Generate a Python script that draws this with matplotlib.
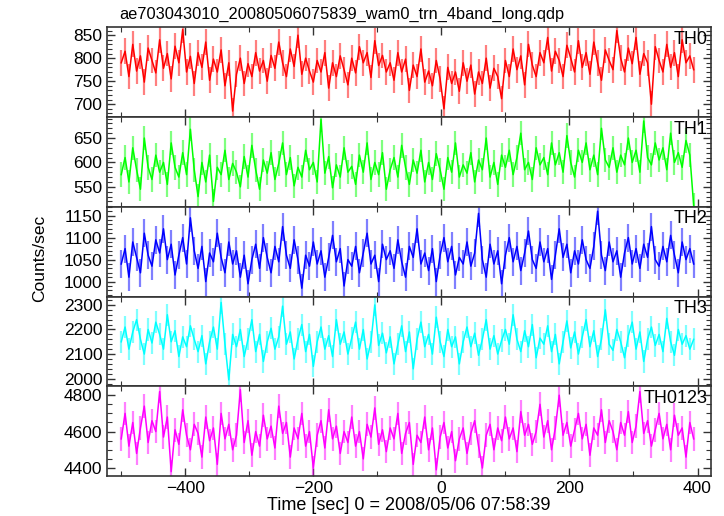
#!/usr/bin/env python3

import matplotlib

matplotlib.use("Agg")
import matplotlib.pyplot as plt
import numpy as np
from matplotlib.ticker import MultipleLocator

# light-curve bins (s), relative to 2008/05/06 07:58:39
t_start = -500.0
bin_width = 6.0

th0_rate = [
    790, 815, 760, 830, 772, 805, 748, 822, 795, 768,
    840, 778, 810, 755, 826, 790, 862, 770, 804, 745,
    812, 780, 835, 752, 798, 770, 818, 740, 790, 685,
    765, 800, 745, 788, 760, 812, 772, 795, 750, 806,
    778, 835, 790, 760, 820, 782, 850, 765, 800, 772,
    748, 795, 770, 812, 735, 790, 760, 805, 775, 742,
    800, 768, 825, 790, 812, 758, 838, 784, 806, 770,
    790, 752, 812, 770, 798, 730, 785, 760, 820, 748,
    772, 740, 795, 755, 690, 780, 745, 770, 728, 790,
    750, 785, 722, 770, 745, 800, 735, 778, 760, 712,
    795, 760, 820, 775, 805, 742, 830, 785, 760, 812,
    790, 845, 772, 815, 795, 760, 828, 800, 770, 838,
    780, 812, 765, 835, 790, 752, 818, 795, 775, 860,
    800, 770, 822, 788, 845, 765, 810, 790, 700, 825,
    795, 770, 830, 780, 812, 760, 840, 790, 805, 775,
]
th1_rate = [
    575, 610, 560, 630, 585, 545, 650, 590, 565, 615,
    580, 600, 555, 640, 590, 570, 620, 575, 668, 585,
    530, 600, 560, 615, 520, 590, 575, 625, 565, 598,
    580, 550, 612, 570, 635, 585, 545, 605, 578, 620,
    565, 598, 640, 575, 610, 552, 590, 570, 625, 585,
    600, 560, 688, 578, 612, 548, 595, 570, 630, 580,
    592, 555, 615, 580, 640, 565, 600, 575, 620, 545,
    585, 610, 570, 635, 590, 555, 605, 578, 625, 560,
    600, 565, 618, 585, 545, 610, 580, 640, 570, 595,
    578, 620, 560, 605, 585, 650, 570, 600, 555, 615,
    590, 625, 575, 610, 660, 585, 600, 565, 630, 595,
    610, 575, 640, 595, 620, 580, 655, 600, 570, 625,
    600, 640, 585, 615, 575, 670, 605, 590, 630, 580,
    615, 595, 650, 600, 625, 580, 685, 610, 595, 640,
    605, 630, 585, 660, 600, 620, 590, 645, 615, 512,
]
th2_rate = [
    1040, 1075, 1010, 1090, 1055, 1020, 1110, 1060, 1035, 1095,
    1065, 1120, 1050, 1085, 1015, 1060, 1100, 1040, 1145, 1070,
    1030, 1080, 1000, 1065, 1045, 1110, 1055, 1020, 1090, 1040,
    1070, 1010, 1060, 995, 1050, 1085, 1030, 1100, 1055, 1020,
    1080, 1045, 1125, 1060, 1030, 1095, 1050, 985, 1060, 1035,
    1090, 1040, 1070, 1010, 1055, 1105, 1045, 1075, 990, 1050,
    1035, 1080, 1020, 1065, 1110, 1040, 1060, 1000, 1085, 1050,
    1070, 1030, 1095, 1045, 1010, 1080, 1055, 1120, 1040, 1065,
    1025, 1075, 1000, 1060, 1100, 1045, 1080, 1015, 1055, 1040,
    1090, 1035, 1065, 1155, 1050, 1010, 1085, 1040, 1070, 995,
    1060, 1100, 1045, 1080, 1025, 1065, 1115, 1050, 1030, 1090,
    1045, 1075, 1005, 1060, 1120, 1055, 1085, 1020, 1070, 1040,
    1095, 1050, 1030, 1080, 1160, 1060, 1025, 1090, 1045, 1070,
    1010, 1065, 1100, 1040, 1075, 1030, 1085, 1055, 1125, 1050,
    1035, 1080, 1045, 1105, 1060, 1020, 1090, 1050, 1075, 1040,
]
th3_rate = [
    2150, 2210, 2120, 2190, 2240, 2160, 2100, 2200, 2145, 2230,
    2180, 2120, 2260, 2150, 2195, 2090, 2170, 2130, 2215, 2160,
    2110, 2175, 2060, 2150, 2210, 2120, 2310, 2140, 1995, 2180,
    2130, 2200, 2090, 2160, 2240, 2110, 2180, 2070, 2150, 2205,
    2120, 2170, 2295, 2140, 2190, 2080, 2160, 2220, 2110, 2180,
    2050, 2150, 2210, 2120, 2175, 2090, 2240, 2140, 2190, 2100,
    2165, 2230, 2120, 2200, 2080, 2150, 2300, 2135, 2185, 2105,
    2170, 2060, 2140, 2215, 2110, 2190, 2040, 2160, 2230, 2130,
    2180, 2100, 2250, 2150, 2090, 2200, 2130, 2170, 2060, 2150,
    2210, 2130, 2185, 2095, 2160, 2240, 2120, 2175, 2100, 2155,
    2200, 2140, 2260, 2160, 2110, 2195, 2130, 2220, 2085, 2165,
    2140, 2215, 2110, 2180, 2060, 2150, 2235, 2125, 2190, 2100,
    2170, 2240, 2130, 2195, 2090, 2160, 2280, 2140, 2115, 2200,
    2150, 2085, 2175, 2230, 2120, 2190, 2070, 2160, 2210, 2135,
    2180, 2110, 2245, 2150, 2095, 2200, 2140, 2175, 2120, 2160,
]
th0123_rate = [
    4560, 4700, 4520, 4650, 4480, 4620, 4740, 4540, 4660, 4600,
    4820, 4570, 4680, 4380, 4610, 4530, 4720, 4580, 4500, 4640,
    4590, 4460, 4680, 4550, 4620, 4420, 4700, 4560, 4640, 4500,
    4580, 4830, 4540, 4660, 4470, 4600, 4520, 4690, 4560, 4630,
    4510, 4740, 4590, 4650, 4460, 4620, 4560, 4700, 4520, 4600,
    4400, 4580, 4660, 4510, 4720, 4560, 4630, 4480, 4600, 4540,
    4680, 4520, 4600, 4450, 4640, 4570, 4730, 4530, 4610, 4490,
    4620, 4560, 4700, 4480, 4590, 4650, 4420, 4580, 4540, 4680,
    4500, 4620, 4390, 4570, 4650, 4510, 4600, 4440, 4560, 4620,
    4480, 4590, 4660, 4520, 4400, 4580, 4640, 4500, 4620, 4550,
    4680, 4560, 4620, 4490, 4710, 4580, 4640, 4530, 4600, 4750,
    4570, 4660, 4500, 4620, 4800, 4580, 4650, 4520, 4610, 4700,
    4560, 4640, 4470, 4620, 4580, 4720, 4540, 4660, 4600, 4500,
    4650, 4580, 4710, 4540, 4630, 4820, 4590, 4660, 4520, 4610,
    4700, 4560, 4640, 4500, 4690, 4580, 4620, 4460, 4650, 4560,
]

band_names = ["TH0", "TH1", "TH2", "TH3", "TH0123"]
band_errors = [28, 25, 32, 45, 65]
band_colors = ["#ff0000", "#00ff00", "#0000ff", "#00ffff", "#ff00ff"]
band_ylims = [(672, 867), (509, 693), (966, 1170), (1969, 2334), (4356, 4849)]
band_major = [50, 50, 50, 100, 200]
band_minor = [10, 10, 10, 20, 50]

plt.rcParams["font.family"] = ["Liberation Sans", "DejaVu Sans"]
plt.rcParams["font.size"] = 12.5

fig, axes = plt.subplots(
    5, 1, figsize=(7.24, 5.16), dpi=100, sharex=True,
    gridspec_kw={"hspace": 0.0},
)
fig.subplots_adjust(left=0.148, right=0.982, top=0.947, bottom=0.0775)

rates = [th0_rate, th1_rate, th2_rate, th3_rate, th0123_rate]
for ax, name, rate, err, color, ylim, maj, mnr in zip(
    axes, band_names, rates, band_errors, band_colors, band_ylims, band_major, band_minor
):
    rate = np.asarray(rate, dtype=float)
    t = t_start + bin_width * np.arange(len(rate))
    ax.vlines(t, rate - err, rate + err, color=color, alpha=0.5, linewidth=1.6)
    ax.plot(t, rate, color=color, linewidth=1.1)
    ax.set_ylim(*ylim)
    ax.yaxis.set_major_locator(MultipleLocator(maj))
    ax.yaxis.set_minor_locator(MultipleLocator(mnr))
    ax.xaxis.set_major_locator(MultipleLocator(200))
    ax.xaxis.set_minor_locator(MultipleLocator(100))
    ax.tick_params(which="both", direction="in", top=True, right=True, colors="#333333",
                   labelcolor="black", labelsize=12.5)
    ax.tick_params(which="major", length=6, width=1.0)
    ax.tick_params(which="minor", length=3.5, width=0.8)
    for spine in ax.spines.values():
        spine.set_color("#333333")
        spine.set_linewidth(1.2)
    ax.text(0.995, 0.96, name, transform=ax.transAxes, ha="right", va="top", fontsize=13)

axes[-1].set_xlim(-522, 421)
axes[-1].set_xlabel("Time [sec] 0 = 2008/05/06 07:58:39", labelpad=1, fontsize=13)
fig.text(0.055, 0.5, "Counts/sec", rotation=90, ha="center", va="center", fontsize=12.5)
fig.text(0.165, 0.972, "ae703043010_20080506075839_wam0_trn_4band_long.qdp",
         ha="left", va="center", fontsize=11.8)

fig.savefig("out.png", dpi=100)
plt.close(fig)
